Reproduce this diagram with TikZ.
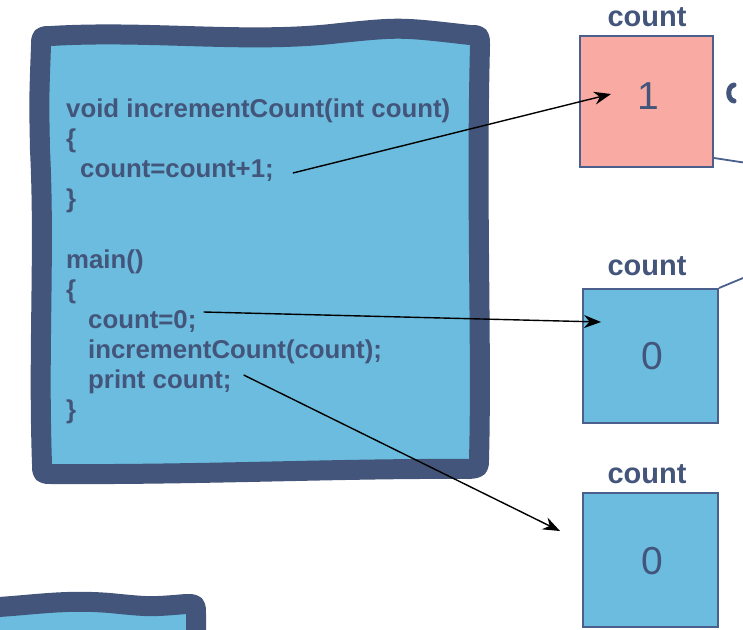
\documentclass[tikz,border=0pt]{standalone}
\usepackage{fontspec}
\setmainfont{Liberation Sans}
\usetikzlibrary{arrows.meta}
\definecolor{frameblue}{HTML}{43557A}
\definecolor{fillblue}{HTML}{6BBCDE}
\definecolor{cellpink}{HTML}{F9ABA3}
\definecolor{celledge}{HTML}{4A5F8C}
\definecolor{inkblue}{HTML}{43557A}
\begin{document}
\begin{tikzpicture}[x=1pt,y=-1pt,
  codeline/.style={anchor=base west, inner sep=0pt, text=inkblue,
    font=\fontsize{25.8}{30}\selectfont\bfseries},
  cell/.style={draw=celledge, line width=2pt, minimum width=#1, minimum height=#1, inner sep=0pt},
  celllabel/.style={inner sep=0pt, text=inkblue, font=\fontsize{29}{34}\selectfont\bfseries},
  cellvalue/.style={inner sep=0pt, text=inkblue, font=\fontsize{39}{44}\selectfont},
  ptr/.style={-{Stealth[length=17pt,width=13pt]}, line width=1.4pt, black},
  stub/.style={draw=celledge, line width=1.8pt},
  frame/.style={fill=fillblue, draw=frameblue, line width=20pt, line join=round}]
\useasboundingbox (0,0) rectangle (743,629);

% hand-drawn frame holding the program text
\filldraw[frame]
  (41,46) .. controls (41,36) .. (51,36)
  .. controls (150,30) and (250,44) .. (340,33)
  .. controls (400,27) .. (470,35)
  .. controls (480,35) .. (480,46)
  .. controls (476,200) and (482,350) .. (479,459)
  .. controls (479,468) .. (469,469)
  .. controls (350,468) and (200,475) .. (52,474)
  .. controls (42,474) .. (42,464)
  .. controls (38,350) and (45,250) .. (40,150)
  .. controls (39,100) .. (41,46) -- cycle;

% second frame, only its top shows
\filldraw[frame]
  (-20,608) .. controls (30,606) and (60,599) .. (110,603)
  .. controls (150,607) .. (186,604)
  .. controls (196,604) .. (196,614) -- (196,690) -- (-20,690) -- cycle;

% program text
\node[codeline] (sig)   at (66,117) {void incrementCount(int count)};
\node[codeline] (ob1)   at (66,147) {\{};
\node[codeline] (inc)   at (80,177) {count=count+1;};
\node[codeline] (cb1)   at (66,207) {\}};
\node[codeline] (mainl) at (66,268) {main()};
\node[codeline] (ob2)   at (66,298) {\{};
\node[codeline] (set)   at (88,328) {count=0;};
\node[codeline] (call)  at (88,358) {incrementCount(count);};
\node[codeline] (prt)   at (88,388) {print count;};
\node[codeline] (cb2)   at (66,418) {\}};

% memory cells
\node[cell=131pt, minimum width=133pt, fill=cellpink] (c1) at (646.5,101.5) {};
\node[cell=134pt, minimum width=135pt, fill=fillblue] (c2) at (650.5,356) {};
\node[cell=134pt, minimum width=135pt, fill=fillblue] (c3) at (650.5,560) {};

\node[celllabel] (l1) at (647,17)  {count};
\node[celllabel] (l2) at (647,266) {count};
\node[celllabel] (l3) at (647,474) {count};

\node[cellvalue] (v1) at (648,96)  {1};
\node[cellvalue] (v2) at (652,356) {0};
\node[cellvalue] (v3) at (652,561) {0};

% neighbouring content beyond the right edge
\draw[draw=inkblue, line width=5pt, line cap=round]
  (734,85) .. controls (727,86) and (727,100) .. (734,101);
\coordinate (offA) at (760,165);
\coordinate (offB) at (760,271);
\draw[stub] ([shift={(0,-10)}]c1.south east) -- (offA);
\draw[stub] (c2.north east) -- (offB);

% pointers from the code to the cells
\draw[ptr] ([shift={(19,-4)}]inc.base east) -- ([shift={(32,-7.5)}]c1.west);
\draw[ptr] ([shift={(7,-16)}]set.base east) -- ([shift={(19,-34)}]c2.west);
\draw[ptr] ([shift={(12,-13)}]prt.base east) -- ([shift={(-22,-29)}]c3.west);
\end{tikzpicture}
\end{document}
